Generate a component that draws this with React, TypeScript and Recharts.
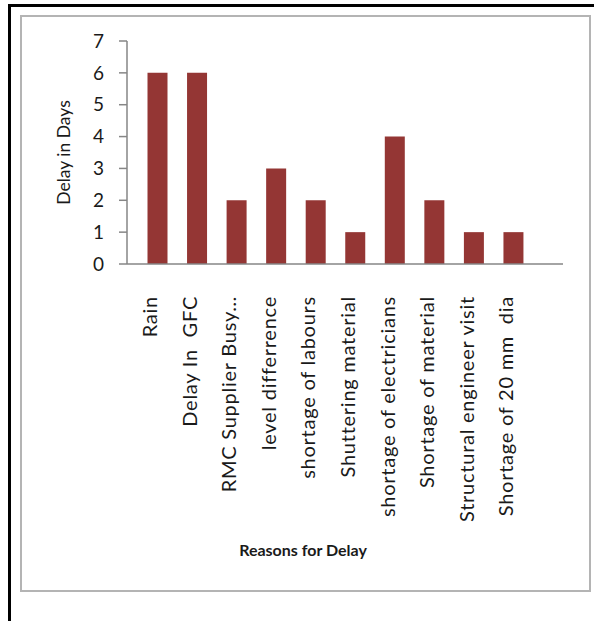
import React from "react";
import { BarChart, Bar, XAxis, YAxis } from "recharts";

const categories = [
  "Rain",
  "Delay In  GFC",
  "RMC Supplier Busy…",
  "level differrence",
  "shortage of labours",
  "Shuttering material",
  "shortage of electricians",
  "Shortage of material",
  "Structural engineer visit",
  "Shortage of 20 mm  dia",
];
const delayDays = [6, 6, 2, 3, 2, 1, 4, 2, 1, 1];
const yTicks = [0, 1, 2, 3, 4, 5, 6, 7];

const data = categories.map((c, i) => ({ reason: c, days: delayDays[i] }));

const FONT = "Lato, 'Liberation Sans', sans-serif";
const TEXT = "#1a1a1a";
const AXIS = "#868686";

const XTick = (props: any) => {
  const { x, y, payload } = props;
  return (
    <text
      x={0}
      y={0}
      transform={`translate(${x},${y + 24}) rotate(-90)`}
      textAnchor="end"
      fontFamily={FONT}
      fontSize={20}
      letterSpacing={0.75}
      fill={TEXT}
      style={{ whiteSpace: "pre" }}
    >
      {payload.value}
    </text>
  );
};

const XTitle = (props: any) => {
  const { viewBox } = props;
  return (
    <text
      x={viewBox.x + viewBox.width / 2 - 42}
      y={viewBox.y + 292}
      textAnchor="middle"
      fontFamily={FONT}
      fontWeight="bold"
      fontSize={16}
      fill={TEXT}
    >
      Reasons for Delay
    </text>
  );
};

const YTitle = (props: any) => {
  const { viewBox } = props;
  const cx = 70;
  const cy = viewBox.y + viewBox.height / 2;
  return (
    <text
      x={0}
      y={0}
      transform={`translate(${cx},${cy}) rotate(-90)`}
      textAnchor="middle"
      fontFamily={FONT}
      fontSize={17.5}
      fill={TEXT}
    >
      Delay in Days
    </text>
  );
};

export default function App() {
  return (
    <div
      style={{
        position: "absolute",
        left: 0,
        top: 0,
        width: 594,
        height: 621,
        overflow: "hidden",
        background: "#fff",
      }}
    >
      <div
        style={{
          position: "absolute",
          left: 8,
          top: 4,
          width: 700,
          height: 700,
          borderLeft: "3px solid #000",
          borderTop: "3px solid #000",
        }}
      />
      <div
        style={{
          position: "absolute",
          left: 20,
          top: 15,
          width: 567,
          height: 573,
          border: "2px solid #b4b4b4",
        }}
      />
      <div style={{ position: "absolute", left: 0, top: 0 }}>
        <BarChart
          width={594}
          height={621}
          data={data}
          margin={{ top: 41, right: 31, left: 0, bottom: 0 }}
        >
          <XAxis
            dataKey="reason"
            interval={0}
            height={357}
            tickLine={false}
            axisLine={{ stroke: AXIS, strokeWidth: 1.5 }}
            padding={{ left: 10.5, right: 30 }}
            tick={<XTick />}
            label={<XTitle />}
          />
          <YAxis
            width={127}
            domain={[0, 7]}
            ticks={yTicks}
            interval={0}
            tickSize={8}
            tickMargin={15}
            axisLine={{ stroke: AXIS, strokeWidth: 1.5 }}
            tickLine={{ stroke: AXIS, strokeWidth: 1.5 }}
            tick={{ fontFamily: FONT, fontSize: 19, fill: TEXT }}
            label={<YTitle />}
          />
          <Bar
            dataKey="days"
            fill="#943634"
            barSize={20}
            isAnimationActive={false}
          />
        </BarChart>
      </div>
    </div>
  );
}
